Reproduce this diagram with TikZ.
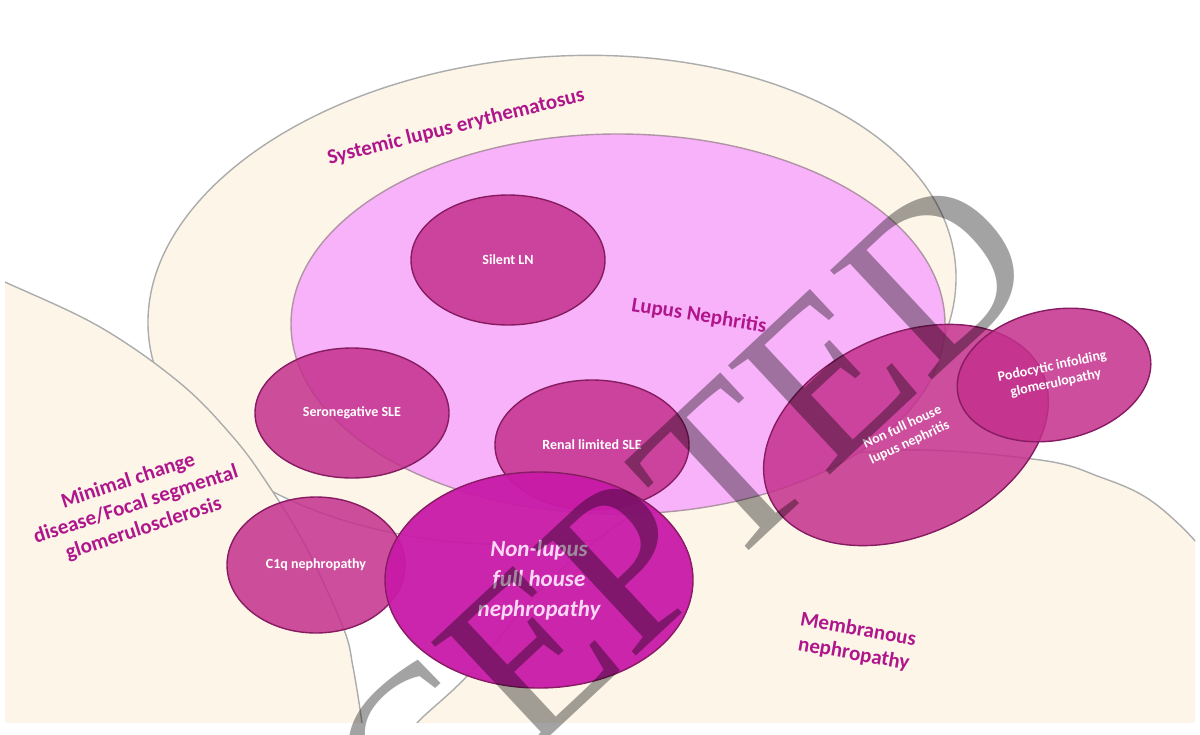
\documentclass[tikz,border=0pt]{standalone}
\usepackage{fontspec}
\setmainfont{Carlito}
\newfontfamily\wmfont{Liberation Serif}
\usetikzlibrary{shapes.geometric}
\definecolor{cream}{RGB}{253,246,232}
\definecolor{lnpink}{RGB}{248,178,250}
\definecolor{magblob}{RGB}{196,48,140}
\definecolor{magedge}{RGB}{135,28,98}
\definecolor{nonlupus}{RGB}{200,26,168}
\definecolor{labelmag}{RGB}{176,22,140}
\definecolor{edgegray}{RGB}{172,172,172}
\definecolor{nltext}{RGB}{250,215,245}
\tikzset{
  region/.style={fill=cream, draw=edgegray, line width=0.7pt},
  blob/.style={ellipse, inner sep=0pt, fill=magblob, fill opacity=0.85, text opacity=1,
    draw=magedge, line width=0.7pt, text=white, align=center,
    font=\bfseries\fontsize{7}{8.5}\selectfont},
  biglabel/.style={text=labelmag, align=center, inner sep=0pt,
    font=\bfseries\fontsize{10.5}{12.5}\selectfont},
  watermark/.style={text=black, text opacity=0.36, inner sep=0pt,
    font=\wmfont\fontsize{114}{114}\selectfont}
}
\begin{document}
\begin{tikzpicture}[x=0.5pt,y=-0.5pt]
\useasboundingbox (0,0) rectangle (1200,734);
\fill[white] (0,0) rectangle (1200,734);
\begin{scope}
  \clip (5,0) rectangle (1195,722);
  % Systemic lupus erythematosus
  \draw[region, rotate around={5:(552,300)}] (552,300) ellipse [x radius=405, y radius=243];
  % Minimal change / FSGS
  \draw[region] plot[smooth, tension=0.6] coordinates {(-20,272) (7,283) (100,327) (180,383) (233,437) (267,483) (305,545) (343,627) (353,667) (362,723) (364,745)} -- (-20,745) -- cycle;
  % Membranous nephropathy
  \draw[region] plot[smooth, tension=0.6] coordinates {(400,750) (417,723) (470,673) (550,580) (650,505) (760,468) (900,450) (1040,460) (1100,477) (1150,500) (1197,543) (1215,575)} -- (1215,750) -- cycle;
  % Lupus nephritis
  \draw[fill=lnpink, draw=edgegray!80!magblob, line width=0.7pt] (618,324) ellipse [x radius=327, y radius=190];
\end{scope}

\node[blob, minimum width=97pt, minimum height=65pt] (silent) at (508,260) {Silent LN};
\node[blob, minimum width=97pt, minimum height=65pt] (sero) at (352,413) {Seronegative SLE};
\node[blob, minimum width=97pt, minimum height=65pt] (renal) at (592,445) {Renal limited SLE};
\node[blob, minimum width=89pt, minimum height=68pt] (c1q) at (316,565) {C1q nephropathy};
\node[blob, minimum width=150pt, minimum height=100pt, rotate=25] (nonfull) at (906,435) {Non full house\\lupus nephritis};
\node[blob, minimum width=98pt, minimum height=65pt, rotate=12] (podo) at (1054,375) {Podocytic infolding\\glomerulopathy};
\node[blob, fill=nonlupus, fill opacity=0.95, minimum width=154pt, minimum height=108pt,
  text=nltext, font=\bfseries\itshape\fontsize{11.5}{15}\selectfont] (nonlupus) at (539,580) {Non-lupus\\full house\\nephropathy};

\node[biglabel, rotate=14] (slelab) at (456,127) {Systemic lupus erythematosus};
\node[biglabel, rotate=-9] (lnlab) at (699,316) {Lupus Nephritis};
\node[biglabel, rotate=18] (mclab) at (136,505) {Minimal change\\disease/Focal segmental\\glomerulosclerosis};
\node[biglabel, rotate=-10] (mnlab) at (856,642) {Membranous\\nephropathy};

\begin{scope}
  \clip (0,0) rectangle (1200,734);
  \node[watermark, rotate=43, anchor=base east] (wm) at (1048,272) {ACCEPTED};
\end{scope}
\end{tikzpicture}
\end{document}
